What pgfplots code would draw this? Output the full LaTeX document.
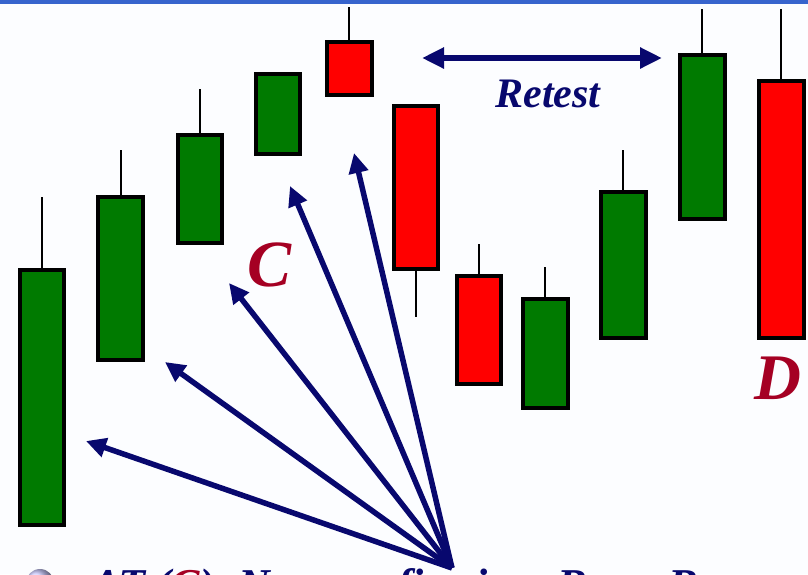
\documentclass[border=0pt]{standalone}
\usepackage{pgfplots}
\pgfplotsset{compat=1.18}
\usepackage{fontspec}
\setmainfont{Liberation Serif}
\usetikzlibrary{arrows.meta}

\definecolor{candgreen}{RGB}{0,122,0}
\definecolor{candred}{RGB}{255,0,0}
\definecolor{navy}{RGB}{8,8,110}
\definecolor{wine}{RGB}{165,0,35}
\definecolor{topbar}{RGB}{55,100,205}
\definecolor{bg}{RGB}{252,253,255}

% left, mid, right, body top, body bottom, wick top, wick bottom, colour (pixel rows)
\newcommand\candle[8]{%
  \addplot[black, line width=2pt] coordinates {(#2,#6) (#2,#7)};
  \addplot[draw=black, line width=4pt, fill=#8, line join=miter]
    coordinates {(#1,#4) (#3,#4) (#3,#5) (#1,#5)} -- cycle;
}
\tikzset{fanarrow/.style={navy, line width=5.5pt, -{Triangle[length=20pt,width=19pt]}}}

\begin{document}
\begin{tikzpicture}
\begin{axis}[
  name=ax,
  width=808pt, height=574pt, scale only axis,
  xmin=0, xmax=808, ymin=0, ymax=574, y dir=reverse,
  hide axis, clip=false,
]
  \fill[bg] (axis cs:0,0) rectangle (axis cs:808,574);
  \fill[topbar] (axis cs:0,0) rectangle (axis cs:808,4);

  \candle{20}{42}{64}{270}{525}{197}{525}{candgreen}
  \candle{98}{121}{143}{197}{360}{150}{360}{candgreen}
  \candle{178}{200}{222}{135}{243}{89}{243}{candgreen}
  \candle{256}{278}{300}{74}{154}{74}{154}{candgreen}
  \candle{327}{349}{372}{42}{95}{7}{95}{candred}
  \candle{394}{416}{438}{106}{269}{106}{317}{candred}
  \candle{457}{479}{501}{276}{384}{244}{384}{candred}
  \candle{523}{545}{568}{299}{408}{267}{408}{candgreen}
  \candle{601}{623}{646}{192}{338}{150}{338}{candgreen}
  \candle{680}{702}{725}{55}{219}{9}{219}{candgreen}
  \candle{759}{781}{804}{81}{338}{9}{338}{candred}

  % arrows from the caption
  \draw[fanarrow] (axis cs:452,568) -- (axis cs:86,441);
  \draw[fanarrow] (axis cs:452,568) -- (axis cs:165,362);
  \draw[fanarrow] (axis cs:452,568) -- (axis cs:229,283);
  \draw[fanarrow] (axis cs:452,568) -- (axis cs:290,186);
  \draw[fanarrow] (axis cs:452,568) -- (axis cs:354,153);

  \draw[navy, line width=6pt, {Triangle[length=22pt,width=20pt]}-{Triangle[length=22pt,width=20pt]}]
    (axis cs:422,58) -- (axis cs:662,58);
  \node[navy, font=\fontsize{42}{48}\selectfont\bfseries\itshape]
    at (axis cs:548,94) {Retest};
  \node[wine, font=\fontsize{66}{72}\selectfont\bfseries\itshape]
    at (axis cs:270,265) {C};
  \node[wine, font=\fontsize{65}{72}\selectfont\bfseries\itshape]
    at (axis cs:778,378) {D};

  \shade[ball color=blue!20] (axis cs:40,583) circle (14pt);
  \node[navy, anchor=base west, font=\fontsize{44}{50}\selectfont\bfseries\itshape]
    at (axis cs:88,599) {AT (\textcolor{wine}{C})\; Non-confirming\; Bear\; Bar};

  \path (axis cs:0,0) coordinate (tl) (axis cs:808,574) coordinate (br);
\end{axis}
\pgfresetboundingbox
\path[use as bounding box] (tl) rectangle (br);
\end{tikzpicture}
\end{document}
